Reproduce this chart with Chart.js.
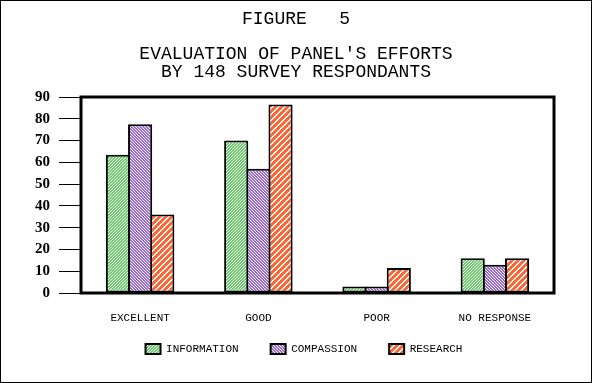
<!DOCTYPE html>
<html>
<head>
<meta charset="utf-8">
<script src="https://cdn.jsdelivr.net/npm/chart.js@4/dist/chart.umd.min.js"></script>
<style>
  html, body { margin: 0; padding: 0; background: #ffffff; }
  canvas { display: block; }
</style>
</head>
<body>
<canvas id="c" width="592" height="383"></canvas>
<script>
// ---- data ----
const categories = ['EXCELLENT', 'GOOD', 'POOR', 'NO RESPONSE'];
const seriesNames = ['INFORMATION', 'COMPASSION', 'RESEARCH'];
const information = [63.5, 70, 3, 16];
const compassion = [77.5, 57, 3, 13];
const research = [36, 86.5, 11.5, 16];
const titleLines = ['FIGURE   5', "EVALUATION OF PANEL'S EFFORTS", 'BY 148 SURVEY RESPONDANTS'];
const yMin = 0, yMax = 90, yStep = 10;

// ---- hatch patterns ----
function hatch(base, period, whiteWidth, dir) {
  const c = document.createElement('canvas');
  c.width = period; c.height = period;
  const ctx = c.getContext('2d');
  ctx.fillStyle = base;
  ctx.fillRect(0, 0, period, period);
  ctx.fillStyle = '#ffffff';
  for (let x = 0; x < period; x++) {
    for (let y = 0; y < period; y++) {
      const k = dir === '/' ? (x + y) % period : ((x - y) % period + period) % period;
      if (k < whiteWidth) ctx.fillRect(x, y, 1, 1);
    }
  }
  return ctx.createPattern(c, 'repeat');
}
const greenPat = hatch('#66cc66', 3, 1, '/');
const purplePat = hatch('#9966cc', 3, 1, '\\');
const orangePat = hatch('#ff6633', 6, 2, '/');

const framePlugin = {
  id: 'frame',
  afterLayout(chart) {
    // pull the legend up closer to the axis labels
    const lg = chart.legend;
    if (lg) { const d = 13; lg.top -= d; lg.bottom -= d; }
  },
  afterDraw(chart) {
    const ctx = chart.ctx, a = chart.chartArea;
    ctx.save();
    ctx.strokeStyle = '#000';
    ctx.lineWidth = 3;
    ctx.strokeRect(a.left, a.top, a.right - a.left, a.bottom - a.top);
    ctx.lineWidth = 1;
    ctx.strokeRect(0.5, 0.5, chart.width - 1, chart.height - 1);
    // title
    ctx.fillStyle = '#000';
    ctx.font = '18px "Liberation Mono", "Courier New", monospace';
    ctx.textAlign = 'center';
    ctx.textBaseline = 'middle';
    const cx = chart.width / 2;
    ctx.fillText(titleLines[0], cx, 19);
    ctx.fillText(titleLines[1], cx, 54.5);
    ctx.fillText(titleLines[2], cx, 72.5);
    ctx.restore();
  }
};

const barBase = { borderColor: '#000', borderWidth: 2, borderSkipped: false, barPercentage: 1.09, categoryPercentage: 0.5624 };

new Chart(document.getElementById('c'), {
  type: 'bar',
  data: {
    labels: categories,
    datasets: [
      Object.assign({ label: seriesNames[0], data: information, backgroundColor: greenPat }, barBase),
      Object.assign({ label: seriesNames[1], data: compassion, backgroundColor: purplePat }, barBase),
      Object.assign({ label: seriesNames[2], data: research, backgroundColor: orangePat }, barBase)
    ]
  },
  options: {
    responsive: false,
    animation: false,
    devicePixelRatio: 1,
    layout: { padding: { left: 20, right: 4, top: 97, bottom: 5.4 } },
    plugins: {
      title: { display: false },
      tooltip: { enabled: false },
      legend: {
        position: 'bottom',
        labels: {
          boxWidth: 15,
          boxHeight: 10,
          padding: 32,
          color: '#000',
          font: { family: '"Liberation Mono", "Courier New", monospace', size: 11 }
        }
      }
    },
    scales: {
      x: {
        grid: { display: false, drawTicks: false },
        border: { display: false },
        ticks: {
          color: '#000',
          padding: 18.4,
          maxRotation: 0,
          autoSkip: false,
          font: { family: '"Liberation Mono", "Courier New", monospace', size: 11 }
        },
        afterFit(s) { s.height = 31.6; }
      },
      y: {
        min: yMin,
        max: yMax,
        grid: { drawOnChartArea: false, drawTicks: true, tickLength: 22, tickColor: '#000', tickWidth: 1 },
        border: { display: false },
        ticks: {
          stepSize: yStep,
          color: '#000',
          padding: 9,
          font: { family: '"Liberation Serif", "Times New Roman", serif', size: 15, weight: 'bold' }
        },
        afterFit(s) { s.width = 61; }
      },
      yRight: {
        position: 'right',
        min: yMin,
        max: yMax,
        grid: { display: false },
        border: { display: false },
        ticks: { display: false },
        afterFit(s) { s.width = 34; }
      }
    }
  },
  plugins: [framePlugin]
});
</script>
</body>
</html>
